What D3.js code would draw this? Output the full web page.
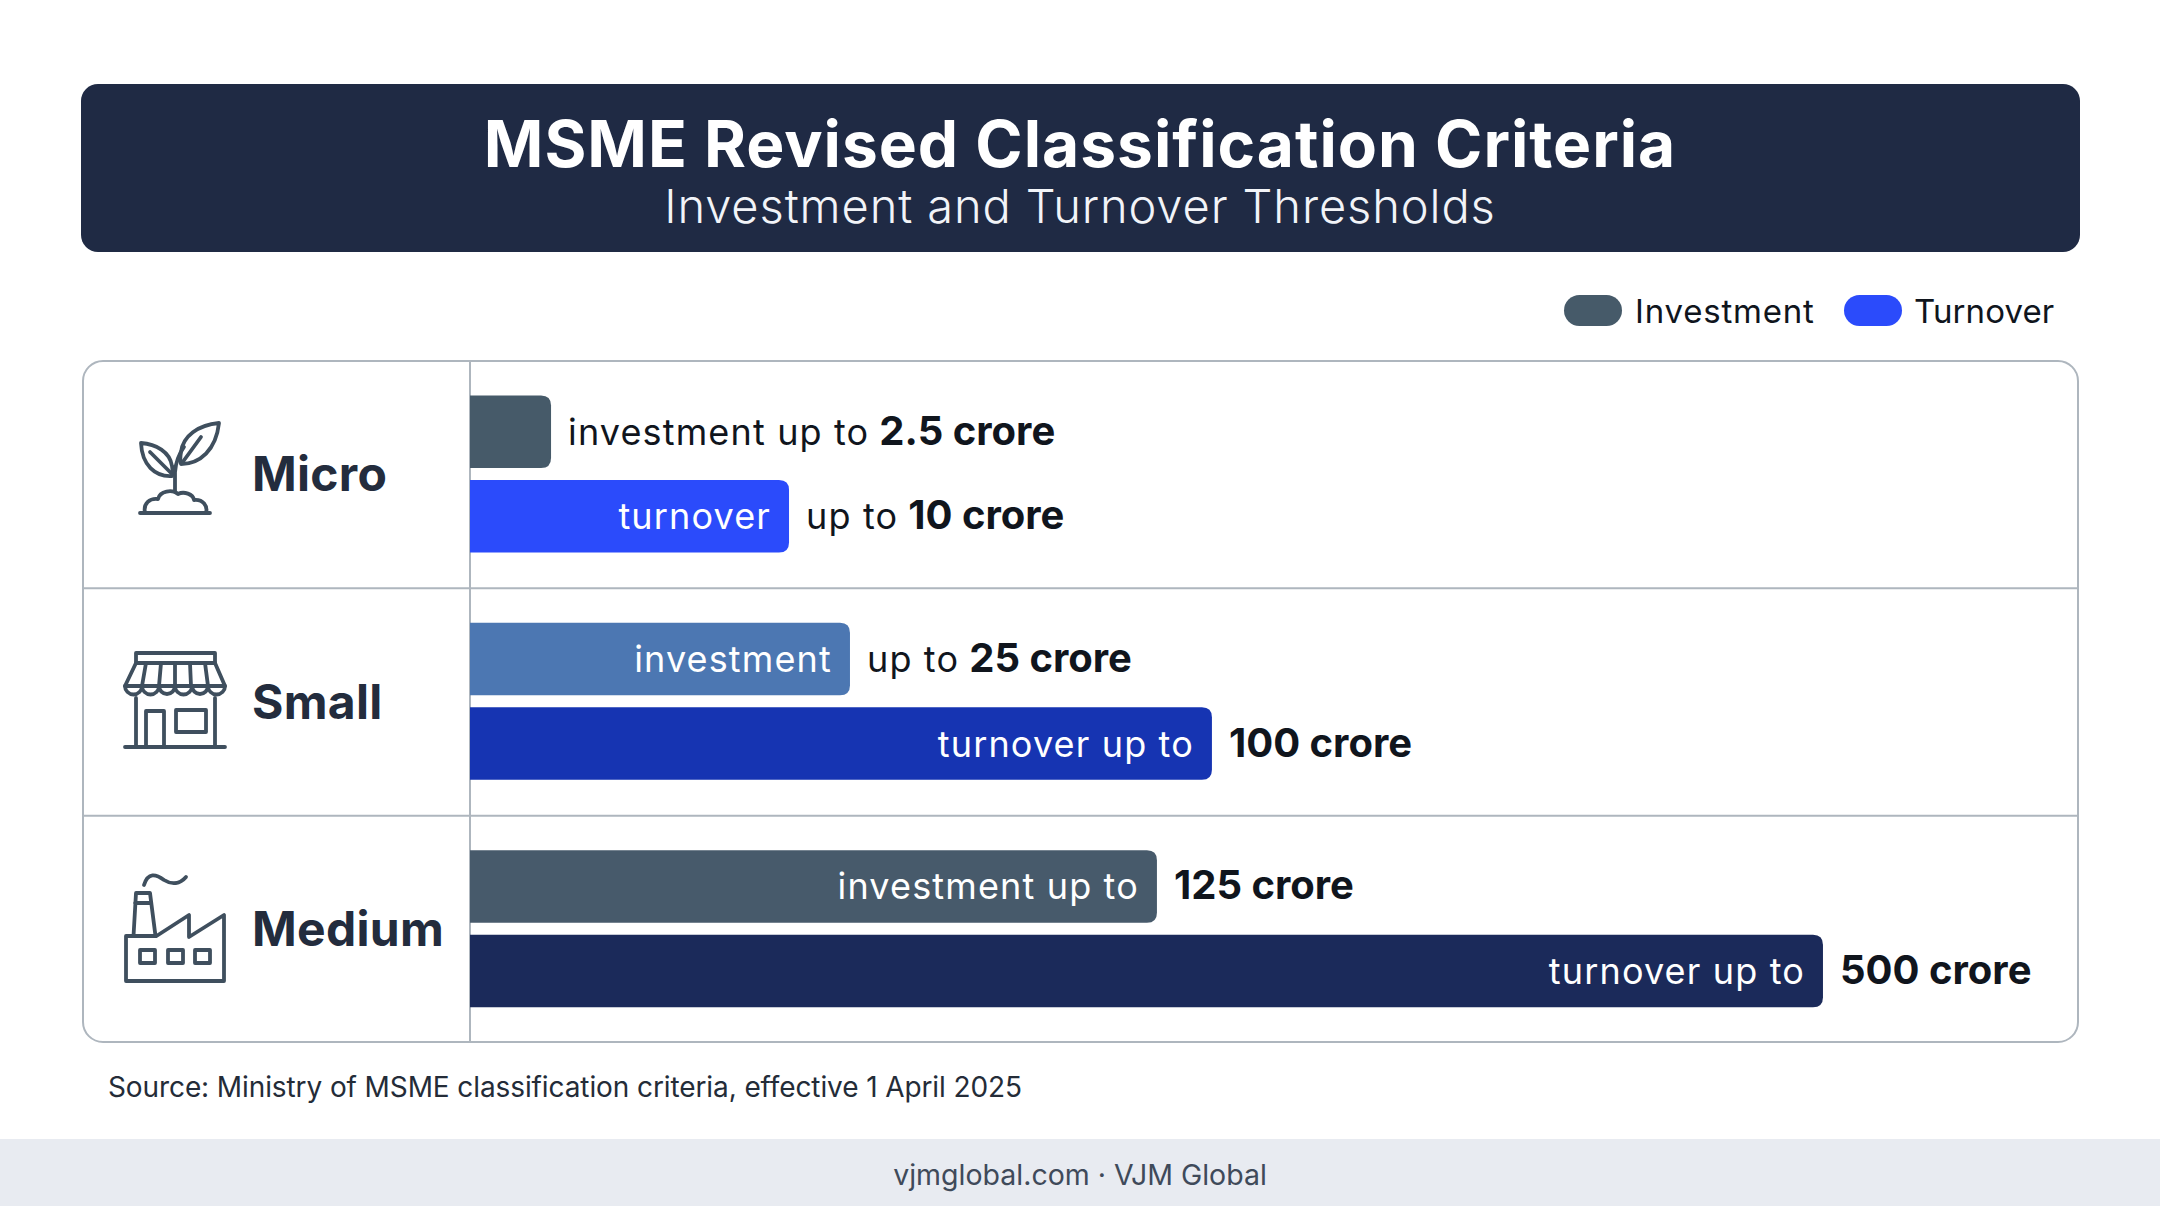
<!DOCTYPE html>
<html><head><meta charset="utf-8">
<style>html,body{margin:0;padding:0;background:#fff}svg{display:block}text{font-family:Inter,"Noto Sans",sans-serif}</style>
<script src="https://cdn.jsdelivr.net/npm/d3@7"></script></head><body>
<script>
const tiers = ["Micro","Small","Medium"];
const seriesNames = ["Investment","Turnover"];
// Stated thresholds (crore)
const investmentCrore = ["2.5","25","125"];
const turnoverCrore = ["10","100","500"];
// The drawn bars are not proportional to the thresholds: lengths, % of the panel width
const investmentBarPct = [5.04,23.63,42.72];
const turnoverBarPct = [19.84,46.14,84.14];
const investmentFill = ["#465a69","#4c77b2","#475a6b"];
const turnoverFill = ["#2b4bfb","#1634b2","#1b2a5a"];
const investmentInside = ["","investment","investment up to"];
const turnoverInside = ["turnover","turnover up to","turnover up to"];
const investmentOutside = ["investment up to","up to",""];
const turnoverOutside = ["up to","",""];
const legendColors = ["#465a69","#2b4bfb"];

const W=2160,H=1206;
const svg=d3.select("body").append("svg").attr("width",W).attr("height",H).attr("viewBox",`0 0 ${W} ${H}`);
const dark="#1f2a44", ink="#10151d", slate="#3f4f5e", rule="#aeb6be";

// header
svg.append("rect").attr("x",81).attr("y",84).attr("width",1999).attr("height",168).attr("rx",17).attr("fill",dark);
svg.append("text").attr("x",1080).attr("y",167).attr("text-anchor","middle").attr("font-size",64).attr("font-weight",700).attr("letter-spacing",1).attr("fill","#fff").text("MSME Revised Classification Criteria");
svg.append("text").attr("x",1080).attr("y",223).attr("text-anchor","middle").attr("font-size",47).attr("font-weight",300).attr("letter-spacing",0.9).attr("fill","#f2f4f8").text("Investment and Turnover Thresholds");

// legend
const legendX=[1564,1844], legendTextX=[1635,1914], legendSpacing=[0.8,0.1];
seriesNames.forEach((s,i)=>{
  svg.append("rect").attr("x",legendX[i]).attr("y",295).attr("width",58).attr("height",31).attr("rx",15.5).attr("fill",legendColors[i]);
  svg.append("text").attr("x",legendTextX[i]).attr("y",323).attr("font-size",33).attr("fill",ink).attr("letter-spacing",legendSpacing[i]).text(s);
});

// panel and scales
const left=470,right=2078,top_=361,bottom=1042;
const x=d3.scaleLinear().domain([0,100]).range([left,right]);
const y=d3.scaleBand().domain(tiers).range([top_,bottom+1]);
const y2=d3.scaleBand().domain(seriesNames).range([34.5,191.5]).paddingInner(0.142);

svg.append("rect").attr("x",83).attr("y",top_).attr("width",1995).attr("height",bottom-top_).attr("rx",20).attr("fill","#fff").attr("stroke",rule).attr("stroke-width",2);
svg.append("line").attr("x1",left).attr("x2",left).attr("y1",top_).attr("y2",bottom).attr("stroke",rule).attr("stroke-width",2);
tiers.slice(1).forEach(t=>svg.append("line").attr("x1",83).attr("x2",2078).attr("y1",y(t)).attr("y2",y(t)).attr("stroke",rule).attr("stroke-width",2));

// tier names
tiers.forEach(t=>svg.append("text").attr("x",252).attr("y",y(t)+y.bandwidth()/2+16.5).attr("font-size",48).attr("font-weight",700).attr("letter-spacing",0.3).attr("fill","#232c3d").text(t));

// bars
const rows=[];
tiers.forEach((t,i)=>{
  rows.push({tier:t,series:"Investment",pct:investmentBarPct[i],crore:investmentCrore[i],fill:investmentFill[i],inside:investmentInside[i],outside:investmentOutside[i]});
  rows.push({tier:t,series:"Turnover",pct:turnoverBarPct[i],crore:turnoverCrore[i],fill:turnoverFill[i],inside:turnoverInside[i],outside:turnoverOutside[i]});
});
function barPath(d){
  const x0=x(0),x1=x(d.pct),y0=y(d.tier)+y2(d.series),h=y2.bandwidth(),r=10;
  return `M${x0},${y0}H${x1-r}Q${x1},${y0} ${x1},${y0+r}V${y0+h-r}Q${x1},${y0+h} ${x1-r},${y0+h}H${x0}Z`;
}
const g=svg.append("g");
g.selectAll("path").data(rows).join("path").attr("d",barPath).attr("fill",d=>d.fill);
const fs=36, ls=1.15;
rows.forEach(d=>{
  const cy=y(d.tier)+y2(d.series)+y2.bandwidth()/2+13;
  if(d.inside) g.append("text").attr("x",x(d.pct)-18).attr("y",cy).attr("text-anchor","end").attr("font-size",fs).attr("letter-spacing",ls).attr("fill","#fff").text(d.inside);
  let cx=x(d.pct)+17;
  if(d.outside){
    const t=g.append("text").attr("x",cx).attr("y",cy).attr("font-size",fs).attr("letter-spacing",ls).attr("fill",ink).text(d.outside);
    cx+=t.node().getComputedTextLength()+10;
  }
  g.append("text").attr("x",cx).attr("y",cy).attr("font-size",40).attr("font-weight",700).attr("fill",ink).text(d.crore+" crore");
});

// icons (decorative line art)
const ic=svg.append("g").attr("fill","none").attr("stroke",slate).attr("stroke-width",3.8).attr("stroke-linejoin","round").attr("stroke-linecap","round");
// plant
ic.append("path").attr("d","M175,492V472Q176,458 184,447");
ic.append("path").attr("d","M219,423C198,425 183,436 181,452C180,458 180,461 181,464C200,464 216,450 219,423Z");
ic.append("path").attr("d","M182,463L201,437");
ic.append("path").attr("d","M141,443C156,444 170,452 172,466C173,470 173,473 172,476C155,477 142,465 141,443Z");
ic.append("path").attr("d","M150,452L172,474");
ic.append("path").attr("d","M140,513H210M145,513C143,503 150,498 158,499C160,491 172,489 178,494C184,491 193,494 194,500C203,499 208,506 206,513");
// store
ic.append("path").attr("d","M136,653H215V663H136Z");
ic.append("path").attr("d","M136,663L125,686M215,663L225,686M125,686H225");
[146,161,175,190,205].forEach((px,i)=>ic.append("path").attr("d",`M${px},663L${[142,159,175,191,208][i]},686`));
[125,142,159,175,192,208].forEach((px,i,a)=>{const nx=i<5?a[i+1]:225;ic.append("path").attr("d",`M${px},686A${(nx-px)/2},${(nx-px)/2} 0 0 0 ${nx},686`);});
ic.append("path").attr("d","M136,698V747M215,698V747M125,747H225");
ic.append("path").attr("d","M146,747V711H164V747");
ic.append("path").attr("d","M176,710H206V732H176Z");
// factory
ic.append("path").attr("d","M126,981V936H156.5L189,915V937L224,915V981Z");
ic.append("path").attr("d","M133.5,936L136,893H150L155.5,936M135,903H151");
ic.append("path").attr("d","M144,885C148,872 156,874 164,880C172,885 180,884 186,877");
[140,168,195].forEach(px=>ic.append("rect").attr("x",px).attr("y",950).attr("width",15).attr("height",13));

// source and footer
svg.append("text").attr("x",108).attr("y",1097).attr("font-size",28).attr("letter-spacing",-0.1).attr("fill","#242c38").text("Source: Ministry of MSME classification criteria, effective 1 April 2025");
svg.append("rect").attr("x",0).attr("y",1139).attr("width",W).attr("height",H-1139).attr("fill","#e8ebf1");
svg.append("text").attr("x",1080).attr("y",1185).attr("text-anchor","middle").attr("font-size",28.5).attr("fill","#3f4a5a").text("vjmglobal.com · VJM Global");
</script></body></html>
